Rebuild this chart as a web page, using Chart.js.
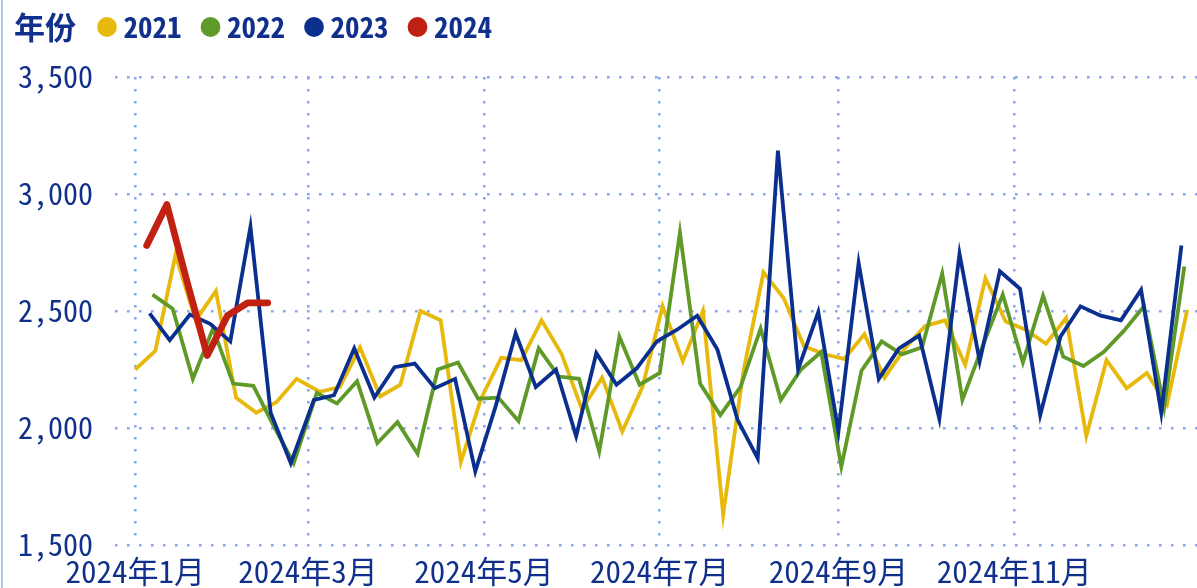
<!DOCTYPE html>
<html>
<head>
<meta charset="utf-8">
<title>年份</title>
<script src="https://cdn.jsdelivr.net/npm/chart.js@4.4.1/dist/chart.umd.min.js"></script>
<style>
  html, body { margin: 0; padding: 0; background: #ffffff; }
  #wrap { position: relative; width: 1197px; height: 588px; overflow: hidden; }
  #wrap::before { content: ''; position: absolute; left: 1px; top: 0; width: 2px; height: 588px; background: #b7c6ee; }
  canvas { display: block; }
</style>
</head>
<body>
<div id="wrap"><canvas id="chart" width="1197" height="588"></canvas></div>
<script>
// Weekly series, one per year; each year's weeks are laid over the 2024 calendar.
const years = ['2021', '2022', '2023', '2024'];
const firstWeek = ['2021-01-01', '2022-01-07', '2023-01-06', '2024-01-05'];

const values2021 = [2250, 2330, 2740, 2460, 2585, 2130, 2065, 2110, 2210, 2155,
  2175, 2345, 2135, 2185, 2500, 2460, 1855, 2125, 2300, 2290,
  2460, 2315, 2080, 2215, 1985, 2175, 2520, 2285, 2500, 1630,
  2240, 2665, 2555, 2350, 2315, 2295, 2400, 2215, 2340, 2435,
  2460, 2270, 2640, 2455, 2420, 2360, 2470, 1965, 2290, 2170,
  2235, 2100, 2505];
const values2022 = [2570, 2510, 2210, 2425, 2190, 2180, 2010, 1850, 2150, 2105,
  2200, 1935, 2025, 1890, 2250, 2280, 2125, 2130, 2030, 2340,
  2220, 2210, 1900, 2390, 2185, 2235, 2835, 2190, 2055, 2175,
  2425, 2120, 2250, 2325, 1835, 2245, 2370, 2315, 2345, 2660,
  2120, 2350, 2570, 2280, 2565, 2305, 2265, 2325, 2415, 2520,
  2088, 2690];
const values2023 = [2490, 2375, 2485, 2445, 2370, 2860, 2065, 1850, 2120, 2140,
  2340, 2130, 2260, 2275, 2170, 2210, 1815, 2090, 2405, 2175,
  2250, 1965, 2320, 2185, 2255, 2370, 2420, 2480, 2335, 2035,
  1870, 3185, 2250, 2495, 1985, 2705, 2210, 2340, 2395, 2040,
  2745, 2285, 2670, 2595, 2055, 2390, 2520, 2480, 2460, 2590,
  2065, 2780];
const values2024 = [2780, 2955, 2625, 2310, 2480, 2535, 2535];

const monthTicks = ['2024-01-01', '2024-03-01', '2024-05-01', '2024-07-01', '2024-09-01', '2024-11-01'];
const monthLabels = ['2024年1月', '2024年3月', '2024年5月', '2024年7月', '2024年9月', '2024年11月'];

const DAY = 86400000;
const BASE = Date.UTC(2024, 0, 1);
function ymd(s) { return s.split('-').map(Number); }
function dayIn2024(s) { const [, m, d] = ymd(s); return (Date.UTC(2024, m - 1, d) - BASE) / DAY; }
function weeklyPoints(start, values) {
  const [y, m, d] = ymd(start);
  return values.map((v, i) => {
    const dt = new Date(Date.UTC(y, m - 1, d + 7 * i));
    return { x: (Date.UTC(2024, dt.getUTCMonth(), dt.getUTCDate()) - BASE) / DAY, y: v };
  });
}
const tickDays = monthTicks.map(dayIn2024);

const seriesValues = [values2021, values2022, values2023, values2024];
const seriesStyle = [
  { color: '#E8B90D', width: 3.8, order: 3, cap: 'butt', join: 'miter' },
  { color: '#5F9A29', width: 3.8, order: 2, cap: 'butt', join: 'miter' },
  { color: '#0B2F8F', width: 3.8, order: 1, cap: 'butt', join: 'miter' },
  { color: '#C02112', width: 6.8, order: 0, cap: 'round', join: 'round' }
];

const TEXT = '#10308c';
const FONT = "'Noto Sans Mono CJK SC', 'Noto Sans CJK SC', sans-serif";
const GRID = '#8aa5f3';

// Draws the "年份" heading ahead of the legend row and slides the legend over.
const legendHeading = {
  id: 'legendHeading',
  afterLayout(chart, args, o) {
    const lg = chart.legend;
    if (!lg) return;
    lg.left += o.dx; lg.right += o.dx;
    lg.top += o.dy; lg.bottom += o.dy;
  },
  afterDraw(chart, args, o) {
    const ctx = chart.ctx;
    ctx.save();
    ctx.font = o.font;
    ctx.fillStyle = o.color;
    ctx.textAlign = 'left';
    ctx.textBaseline = 'middle';
    ctx.fillText(o.text, o.x, o.y);
    ctx.restore();
  }
};

new Chart(document.getElementById('chart'), {
  type: 'line',
  data: {
    datasets: years.map((yr, k) => ({
      label: yr,
      data: weeklyPoints(firstWeek[k], seriesValues[k]),
      borderColor: seriesStyle[k].color,
      backgroundColor: seriesStyle[k].color,
      borderWidth: seriesStyle[k].width,
      borderCapStyle: seriesStyle[k].cap,
      borderJoinStyle: seriesStyle[k].join,
      order: seriesStyle[k].order,
      pointRadius: 0,
      pointHoverRadius: 0,
      tension: 0,
      fill: false
    }))
  },
  plugins: [legendHeading],
  options: {
    responsive: false,
    animation: false,
    devicePixelRatio: 1,
    layout: { padding: { top: 11, left: 0, right: 0, bottom: 0 } },
    plugins: {
      tooltip: { enabled: false },
      legendHeading: { text: '年份', x: 14, y: 27, dx: 78, dy: -25.5, color: TEXT, font: "bold 31px " + FONT },
      legend: {
        position: 'top',
        align: 'start',
        labels: {
          usePointStyle: true,
          pointStyle: 'circle',
          boxWidth: 4,
          boxHeight: 14,
          padding: 27,
          color: TEXT,
          font: { family: FONT, size: 29, weight: 'bold' },
          sort: (a, b) => a.datasetIndex - b.datasetIndex,
          generateLabels(chart) {
            const items = Chart.defaults.plugins.legend.labels.generateLabels(chart);
            items.forEach(it => { it.lineWidth = 0; it.strokeStyle = it.fillStyle; it.pointStyle = 'circle'; });
            return items;
          }
        }
      }
    },
    scales: {
      x: {
        type: 'linear',
        min: -7,
        max: 368.4,
        afterBuildTicks(scale) { scale.ticks = tickDays.map(v => ({ value: v })); },
        afterFit(scale) { scale.height = 43; },
        ticks: {
          autoSkip: false,
          maxRotation: 0,
          padding: 8,
          color: TEXT,
          font: { family: FONT, size: 31 },
          callback: (value, index) => monthLabels[index]
        },
        grid: { color: GRID, lineWidth: 2.6, drawTicks: false },
        border: { display: false, dash: [2.6, 9.4] }
      },
      y: {
        min: 1500,
        max: 3500,
        afterFit(scale) { scale.width = 115; },
        ticks: {
          stepSize: 500,
          padding: 22,
          color: TEXT,
          font: { family: FONT, size: 30 },
          callback: v => v.toLocaleString('en-US')
        },
        grid: { color: GRID, lineWidth: 2.6, drawTicks: false },
        border: { display: false, dash: [2.6, 9.4] }
      }
    }
  }
});
</script>
</body>
</html>
